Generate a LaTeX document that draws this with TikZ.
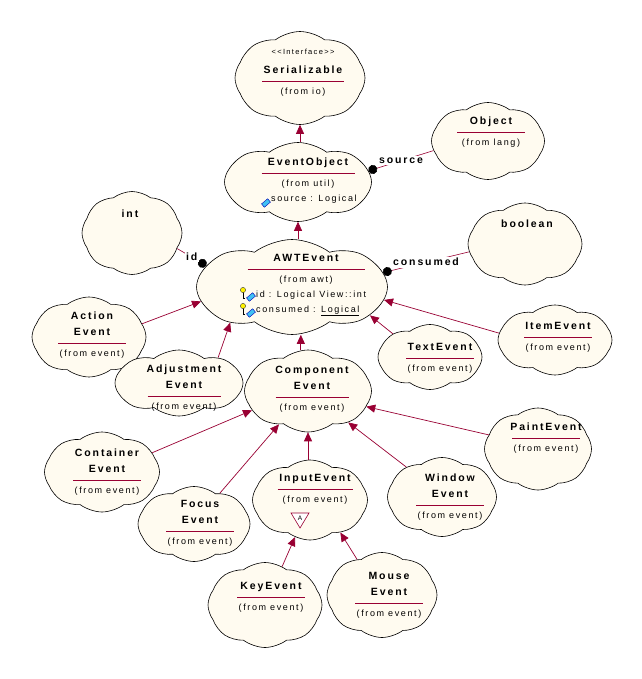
\documentclass[tikz,border=0pt]{standalone}
\usepackage{fontspec}
\setmainfont{Liberation Sans}
\newfontfamily\spacedfont[LetterSpace=18]{Liberation Sans}
\usetikzlibrary{arrows.meta, shapes.symbols}
\definecolor{rose}{RGB}{153,0,51}
\definecolor{cream}{RGB}{255,251,240}
\newcommand\namefont{\spacedfont\bfseries\fontsize{10.5}{12.6}\selectfont}
\newcommand\fromfont{\spacedfont\mdseries\fontsize{9}{10}\selectfont}
\newcommand\stereofont{\spacedfont\mdseries\fontsize{7.5}{8}\selectfont}
\newcommand\rosebar[1]{\textcolor{rose}{\rule{#1pt}{0.9pt}}}
\tikzset{
  cls/.style   = {cloud, cloud puffs=8, cloud puff arc=75, cloud ignores aspect,
                  draw, line width=0.6pt, fill=cream, inner sep=0pt},
  ttl/.style   = {anchor=north, align=center, font=\namefont, inner sep=0pt},
  attr/.style  = {anchor=west, font=\fromfont, inner sep=0pt},
  gen/.style   = {draw=rose, line width=0.7pt, -{Triangle[length=9pt, width=8pt]}},
  assoc/.style = {draw=rose, line width=0.6pt, {Circle[length=9pt, color=black]}-},
  role/.style  = {font=\namefont, fill=white, inner sep=1.5pt},
  fieldpic/.pic = {\filldraw[fill=cyan!75, draw=blue!70!black, line width=0.4pt, rotate=40]
                    (-4,-2.2) rectangle (4,2.2);},
  keypic/.pic   = {\draw[line width=0.8pt] (0,-1) -- (0,5) -- (1.5,5);
                   \filldraw[fill=yellow, draw=black!80, line width=0.4pt] (0,-3) circle (2.6);},
}

\begin{document}
\begin{tikzpicture}[x=1pt, y=-1pt]
  \useasboundingbox[fill=white] (0,0) rectangle (641,679);

  % clouds
  \node[cls, minimum width=130, minimum height=93] (ser)   at (300,78)  {};
  \node[cls, minimum width=113, minimum height=77] (obj)   at (488,141) {};
  \node[cls, minimum width=147, minimum height=79] (evo)   at (298,182) {};
  \node[cls, minimum width=100, minimum height=83] (int)   at (132,233) {};
  \node[cls, minimum width=114, minimum height=82] (bool)  at (525,244) {};
  \node[cls, minimum width=191, minimum height=95] (awt)   at (292,287) {};
  \node[cls, minimum width=114, minimum height=80] (act)   at (89,337)  {};
  \node[cls, minimum width=114, minimum height=70] (item)  at (555,340) {};
  \node[cls, minimum width=104, minimum height=65] (txt)   at (430,357) {};
  \node[cls, minimum width=128, minimum height=66] (adj)   at (179,383) {};
  \node[cls, minimum width=127, minimum height=82] (comp)  at (308,391) {};
  \node[cls, minimum width=107, minimum height=82] (paint) at (538,449) {};
  \node[cls, minimum width=115, minimum height=80] (cont)  at (102,472) {};
  \node[cls, minimum width=112, minimum height=75] (focus) at (194,524) {};
  \node[cls, minimum width=115, minimum height=80] (ipt)   at (310,500) {};
  \node[cls, minimum width=109, minimum height=79] (win)   at (442,497) {};
  \node[cls, minimum width=114, minimum height=85] (key)   at (265,605) {};
  \node[cls, minimum width=110, minimum height=85] (mouse) at (382,595) {};

  % class texts
  \node[ttl] (ser-t) at (303,49)
    {{\stereofont <<Interface>>}\\[6.4pt]Serializable\\[-4.6pt]\rosebar{82}\\{\fromfont (from io)}};
  \node[ttl] (obj-t) at (491,117) {Object\\[-4.6pt]\rosebar{68}\\{\fromfont (from lang)}};
  \node[ttl] (evo-t) at (308,158) {EventObject\\[-4.6pt]\rosebar{93}\\{\fromfont (from util)}};
  \node[attr] (evo-a) at (271,199) {source : Logical};
  \node[ttl] (int-t) at (130,210) {int};
  \node[ttl] (bool-t) at (527,220) {boolean};
  \node[ttl] (awt-t) at (306,254) {AWTEvent\\[-4.6pt]\rosebar{117}\\{\fromfont (from awt)}};
  \node[attr] (awt-a1) at (256,295) {id : Logical View::int};
  \node[attr] (awt-a2) at (256,311) {consumed : \underline{Logical}};
  \node[ttl] (act-t) at (92,312) {Action\\[3.4pt]Event\\[-4.6pt]\rosebar{68}\\{\fromfont (from event)}};
  \node[ttl] (item-t) at (558,322) {ItemEvent\\[-4.6pt]\rosebar{68}\\{\fromfont (from event)}};
  \node[ttl] (txt-t) at (440,343) {TextEvent\\[-4.6pt]\rosebar{68}\\{\fromfont (from event)}};
  \node[ttl] (adj-t) at (184,365) {Adjustment\\[3.4pt]Event\\[-4.6pt]\rosebar{73}\\{\fromfont (from event)}};
  \node[ttl] (comp-t) at (312,366) {Component\\[3.4pt]Event\\[-4.6pt]\rosebar{73}\\{\fromfont (from event)}};
  \node[ttl] (paint-t) at (546,423) {PaintEvent\\[-4.6pt]\rosebar{68}\\{\fromfont (from event)}};
  \node[ttl] (cont-t) at (107,449) {Container\\[3.4pt]Event\\[-4.6pt]\rosebar{68}\\{\fromfont (from event)}};
  \node[ttl] (focus-t) at (200,500) {Focus\\[3.4pt]Event\\[-4.6pt]\rosebar{68}\\{\fromfont (from event)}};
  \node[ttl] (ipt-t) at (315,474) {InputEvent\\[-4.6pt]\rosebar{75}\\{\fromfont (from event)}};
  \node[ttl] (win-t) at (450,474) {Window\\[3.4pt]Event\\[-4.6pt]\rosebar{68}\\{\fromfont (from event)}};
  \node[ttl] (key-t) at (271,582) {KeyEvent\\[-4.6pt]\rosebar{68}\\{\fromfont (from event)}};
  \node[ttl] (mouse-t) at (389,572) {Mouse\\[3.4pt]Event\\[-4.6pt]\rosebar{68}\\{\fromfont (from event)}};

  % abstract mark
  \draw[rose, line width=0.6pt, fill=white] (291,513) -- (309,513) -- (300,528) -- cycle;
  \node[font=\fromfont\fontsize{6.5}{7}\selectfont, inner sep=0pt] (ipt-abs) at (300,518.5) {A};

  % field icons
  \pic at (266,203) {fieldpic};
  \pic at (243,293) {keypic};
  \pic at (251,297) {fieldpic};
  \pic at (243,309) {keypic};
  \pic at (251,313) {fieldpic};

  % generalisations
  \draw[gen] (ser.south |- evo.north) -- (ser.south);
  \draw[gen] (evo.south |- awt.north) -- (evo.south);
  \draw[gen] (act.14) -- (awt.189);
  \draw[gen] (adj.33) -- (awt.210);
  \draw[gen] (comp.100) -- (comp.100 |- awt.south);
  \draw[gen] (txt.148) -- (awt.-20);
  \draw[gen] (item.173) -- (awt.-8);
  \draw[gen] (cont.21) -- (comp.199);
  \draw[gen] (focus.50) -- (comp.229);
  \draw[gen] (comp.south |- ipt.north) -- (comp.south);
  \draw[gen] (win.140) -- (comp.-38);
  \draw[gen] (paint.164) -- (comp.-15);
  \draw[gen] (key.66) -- (ipt.248);
  \draw[gen] (mouse.125) -- (ipt.-47);

  % associations
  \draw[assoc] (evo.9) -- node[role] {source} (obj.190);
  \draw[assoc] (awt.166) -- node[role] {id} (int.-19);
  \draw[assoc] (awt.9) -- node[role] {consumed} (bool.188);
\end{tikzpicture}
\end{document}
